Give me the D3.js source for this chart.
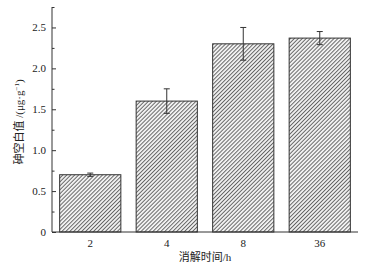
<!DOCTYPE html>
<meta charset="utf-8">
<script src="https://d3js.org/d3.v7.min.js"></script>
<style>
  body { margin: 0; background: #fff; }
  text { font-family: "Liberation Serif", "Noto Sans CJK SC", serif; }
</style>
<div id="my_dataviz"></div>
<script>

// data
var categories = ["2", "4", "8", "36"];
var values = [0.70, 1.60, 2.30, 2.37];
var errors = [0.02, 0.15, 0.20, 0.08];
var yTicks = [0, 0.5, 1.0, 1.5, 2.0, 2.5];
var yMinor = [0.25, 0.75, 1.25, 1.75, 2.25, 2.75];

var margin = {top: 7, right: 19, bottom: 36, left: 52},
    width = 377 - margin.left - margin.right,
    height = 268 - margin.top - margin.bottom;

var svg = d3.select("#my_dataviz")
  .append("svg")
    .attr("width", 377)
    .attr("height", 268);

// diagonal hatching
var pat = svg.append("defs").append("pattern")
    .attr("id", "hatch")
    .attr("patternUnits", "userSpaceOnUse")
    .attr("width", 2.8)
    .attr("height", 2.8)
    .attr("patternTransform", "rotate(45)");
pat.append("rect").attr("width", 2.8).attr("height", 2.8).attr("fill", "#f2f2f2");
pat.append("line")
    .attr("x1", 0.5).attr("y1", 0).attr("x2", 0.5).attr("y2", 2.8)
    .attr("stroke", "#5a5a5a").attr("stroke-width", 0.9);

var g = svg.append("g")
    .attr("transform", "translate(" + margin.left + "," + margin.top + ")");

var x = d3.scaleBand()
  .domain(categories)
  .range([0, width])
  .paddingInner(0.2)
  .paddingOuter(0.1);

var y = d3.scaleLinear()
  .domain([0, 2.75])
  .range([height, 0]);

// bars
g.selectAll("rect.bar")
  .data(values)
  .enter()
  .append("rect")
    .attr("class", "bar")
    .attr("x", function(d, i) { return x(categories[i]); })
    .attr("y", function(d) { return y(d); })
    .attr("width", x.bandwidth())
    .attr("height", function(d) { return y(0) - y(d); })
    .attr("fill", "url(#hatch)")
    .attr("stroke", "#333")
    .attr("stroke-width", 1);

// error bars
var eb = g.selectAll("g.err")
  .data(values)
  .enter()
  .append("g")
    .attr("class", "err")
    .attr("stroke", "#333")
    .attr("stroke-width", 1);
eb.append("line")
  .attr("x1", function(d, i) { return x(categories[i]) + x.bandwidth() / 2; })
  .attr("x2", function(d, i) { return x(categories[i]) + x.bandwidth() / 2; })
  .attr("y1", function(d, i) { return y(d + errors[i]); })
  .attr("y2", function(d, i) { return y(d - errors[i]); });
[1, -1].forEach(function(s) {
  eb.append("line")
    .attr("x1", function(d, i) { return x(categories[i]) + x.bandwidth() / 2 - 3; })
    .attr("x2", function(d, i) { return x(categories[i]) + x.bandwidth() / 2 + 3; })
    .attr("y1", function(d, i) { return y(d + s * errors[i]); })
    .attr("y2", function(d, i) { return y(d + s * errors[i]); });
});

// Y axis, ticks inside
var yAxis = g.append("g")
  .call(d3.axisLeft(y).tickValues(yTicks).tickSize(-4)
    .tickFormat(function(d) { return d === 0 ? "0" : d3.format(".1f")(d); }));
yAxis.selectAll("text").attr("x", -6).style("font-size", "11px").attr("fill", "#222");
yAxis.select(".domain").attr("d", "M0," + height + "V0").attr("stroke", "#333");
yAxis.selectAll(".tick line").attr("stroke", "#333");
g.append("g")
  .call(d3.axisLeft(y).tickValues(yMinor).tickSize(-2.5).tickFormat(""))
  .call(function(a) { a.select(".domain").remove(); })
  .selectAll(".tick line").attr("stroke", "#333");

// X axis
var xAxis = g.append("g")
  .attr("transform", "translate(0," + height + ")")
  .call(d3.axisBottom(x).tickSize(0).tickPadding(7));
xAxis.select(".domain").attr("d", "M0,0H" + width).attr("stroke", "#333");
xAxis.selectAll("text").style("font-size", "11px").attr("fill", "#222");

// axis titles
svg.append("text")
  .attr("x", margin.left + width / 2)
  .attr("y", 261)
  .attr("text-anchor", "middle")
  .style("font-size", "11px")
  .attr("fill", "#222")
  .text("消解时间/h");

var yl = svg.append("text")
  .attr("transform", "translate(23,122) rotate(-90)")
  .attr("text-anchor", "middle")
  .style("font-size", "11px")
  .attr("fill", "#222");
yl.append("tspan").text("砷空白值 /(μg·g");
yl.append("tspan").attr("dy", -4).style("font-size", "7px").text("−1");
yl.append("tspan").attr("dy", 4).text(")");

</script>
